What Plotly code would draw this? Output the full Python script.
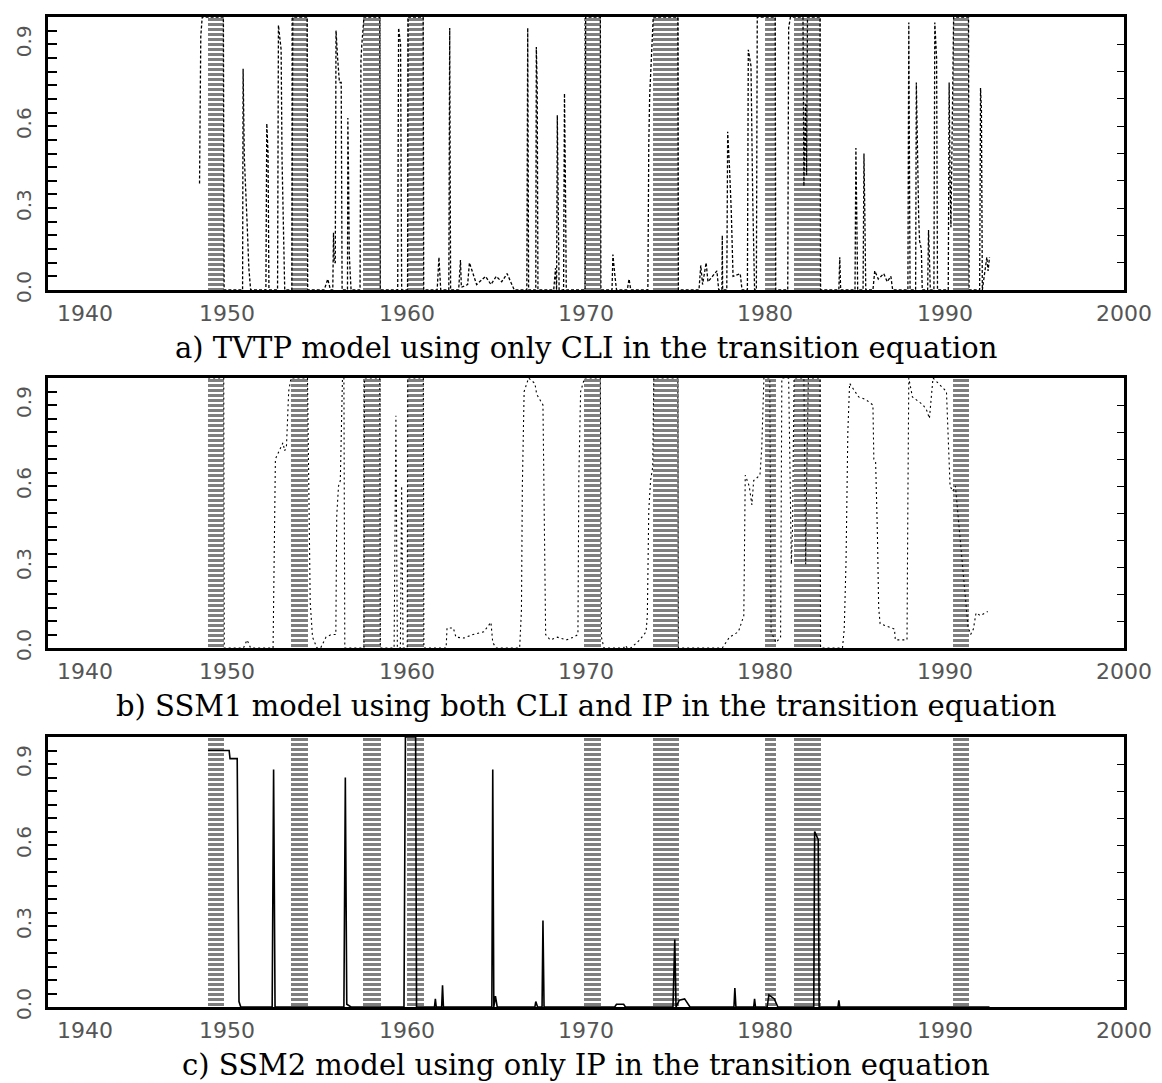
import numpy as np
import plotly.graph_objects as go

# Recession periods (decimal years) shaded in every panel
REC_START = [1948.90, 1953.57, 1957.58, 1960.02, 1969.90, 1973.72, 1979.98, 1981.60, 1990.45]
REC_END = [1949.84, 1954.50, 1958.55, 1960.98, 1970.85, 1975.18, 1980.60, 1983.12, 1991.38]

# Probability of recession: (decimal year, probability)
TVTP_PROB = [
    (1948.45, 0.39), (1948.50, 0.74), (1948.52, 0.93), (1948.60, 1.00), (1949.78, 1.00),
    (1949.82, 0.00), (1950.85, 0.00), (1950.88, 0.81), (1950.95, 0.48), (1951.10, 0.25),
    (1951.20, 0.08), (1951.30, 0.00), (1952.15, 0.00), (1952.20, 0.61), (1952.27, 0.50),
    (1952.32, 0.00), (1952.80, 0.00), (1952.85, 0.97), (1953.00, 0.88), (1953.05, 0.48),
    (1953.15, 0.21), (1953.20, 0.00), (1953.60, 0.00), (1953.65, 1.00), (1954.45, 1.00),
    (1954.48, 0.00), (1955.40, 0.00), (1955.60, 0.04), (1955.75, 0.00), (1955.88, 0.00),
    (1955.92, 0.21), (1955.96, 0.10), (1956.02, 0.10), (1956.06, 0.95), (1956.15, 0.85),
    (1956.25, 0.76), (1956.35, 0.76), (1956.40, 0.00), (1956.70, 0.00), (1956.72, 0.63),
    (1956.76, 0.42), (1956.80, 0.13), (1956.86, 0.05), (1956.90, 0.00), (1957.40, 0.00),
    (1957.45, 0.84), (1957.50, 0.90), (1957.62, 1.00), (1958.50, 1.00), (1958.53, 0.00),
    (1959.50, 0.00), (1959.55, 0.96), (1959.66, 0.90), (1959.72, 0.00), (1960.05, 0.00),
    (1960.08, 1.00), (1960.92, 1.00), (1960.95, 0.00), (1961.70, 0.00), (1961.80, 0.12),
    (1961.90, 0.00), (1962.35, 0.00), (1962.40, 0.96), (1962.45, 0.00), (1962.90, 0.00),
    (1963.00, 0.11), (1963.05, 0.01), (1963.40, 0.02), (1963.50, 0.10), (1963.90, 0.02),
    (1964.40, 0.05), (1964.70, 0.02), (1965.00, 0.05), (1965.30, 0.03), (1965.60, 0.06),
    (1966.00, 0.00), (1966.70, 0.00), (1966.75, 0.96), (1966.80, 0.00), (1967.20, 0.00),
    (1967.23, 0.89), (1967.28, 0.74), (1967.32, 0.00), (1968.20, 0.00), (1968.30, 0.08),
    (1968.36, 0.00), (1968.40, 0.64), (1968.45, 0.38), (1968.50, 0.00), (1968.75, 0.00),
    (1968.80, 0.72), (1968.85, 0.41), (1968.90, 0.00), (1969.95, 0.00), (1969.98, 1.00),
    (1970.80, 1.00), (1970.83, 0.00), (1971.45, 0.00), (1971.50, 0.13), (1971.60, 0.06),
    (1971.70, 0.00), (1972.30, 0.00), (1972.40, 0.04), (1972.50, 0.00), (1973.45, 0.00),
    (1973.50, 0.53), (1973.55, 0.71), (1973.75, 1.00), (1975.12, 1.00), (1975.15, 0.00),
    (1976.30, 0.00), (1976.40, 0.09), (1976.50, 0.02), (1976.70, 0.10), (1976.80, 0.03),
    (1977.30, 0.07), (1977.40, 0.00), (1977.58, 0.00), (1977.60, 0.20), (1977.62, 0.00),
    (1977.85, 0.00), (1977.90, 0.58), (1978.00, 0.45), (1978.10, 0.29), (1978.20, 0.05),
    (1978.60, 0.06), (1978.70, 0.00), (1979.00, 0.00), (1979.05, 0.88), (1979.20, 0.82),
    (1979.30, 0.32), (1979.40, 0.00), (1979.50, 0.00), (1979.55, 1.00), (1980.55, 1.00),
    (1980.58, 0.00), (1981.25, 0.00), (1981.30, 0.96), (1981.40, 1.00), (1982.10, 1.00),
    (1982.15, 0.38), (1982.25, 0.68), (1982.30, 0.42), (1982.35, 1.00), (1983.05, 1.00),
    (1983.08, 0.00), (1984.10, 0.00), (1984.15, 0.12), (1984.20, 0.00), (1985.00, 0.00),
    (1985.05, 0.52), (1985.10, 0.12), (1985.15, 0.00), (1985.45, 0.00), (1985.50, 0.50),
    (1985.55, 0.27), (1985.60, 0.00), (1986.00, 0.00), (1986.10, 0.07), (1986.30, 0.04),
    (1986.60, 0.06), (1986.80, 0.03), (1987.00, 0.05), (1987.10, 0.00), (1987.95, 0.00),
    (1988.00, 0.98), (1988.07, 0.00), (1988.38, 0.00), (1988.42, 0.76), (1988.55, 0.27),
    (1988.60, 0.18), (1988.70, 0.15), (1988.75, 0.00), (1989.05, 0.00), (1989.10, 0.22),
    (1989.15, 0.12), (1989.20, 0.00), (1989.40, 0.00), (1989.45, 0.98), (1989.55, 0.85),
    (1989.60, 0.00), (1990.20, 0.00), (1990.25, 0.76), (1990.30, 0.40), (1990.35, 0.23),
    (1990.50, 1.00), (1991.33, 1.00), (1991.36, 0.00), (1991.95, 0.00), (1992.00, 0.74),
    (1992.05, 0.66), (1992.10, 0.00), (1992.35, 0.12), (1992.42, 0.07), (1992.50, 0.12),
]

SSM1_PROB = [
    (1948.93, 1.00), (1949.80, 1.00), (1949.83, 0.00), (1950.90, 0.00), (1951.10, 0.03),
    (1951.30, 0.00), (1952.55, 0.00), (1952.62, 0.40), (1952.68, 0.70), (1953.10, 0.76),
    (1953.20, 0.73), (1953.30, 0.75), (1953.42, 0.95), (1953.55, 1.00), (1954.47, 1.00),
    (1954.62, 0.17), (1954.75, 0.04), (1955.00, 0.00), (1955.20, 0.00), (1955.50, 0.04),
    (1955.80, 0.05), (1956.05, 0.05), (1956.10, 0.49), (1956.20, 0.60), (1956.30, 0.62),
    (1956.42, 1.00), (1956.50, 1.00), (1956.55, 0.00), (1957.62, 0.00), (1957.65, 1.00),
    (1958.50, 1.00), (1958.53, 0.00), (1959.30, 0.00), (1959.40, 0.86), (1959.48, 0.00),
    (1959.65, 0.00), (1959.72, 0.60), (1959.80, 0.00), (1960.03, 0.00), (1960.06, 1.00),
    (1960.93, 1.00), (1960.96, 0.00), (1962.20, 0.00), (1962.25, 0.074), (1962.60, 0.074),
    (1962.75, 0.04), (1963.20, 0.037), (1963.70, 0.05), (1964.30, 0.06), (1964.70, 0.095),
    (1964.80, 0.02), (1965.00, 0.00), (1966.30, 0.00), (1966.40, 0.14), (1966.45, 0.60),
    (1966.55, 0.95), (1966.80, 1.00), (1967.15, 0.98), (1967.25, 0.94), (1967.60, 0.90),
    (1967.68, 0.38), (1967.75, 0.05), (1968.00, 0.03), (1968.40, 0.04), (1968.90, 0.03),
    (1969.30, 0.04), (1969.55, 0.05), (1969.60, 0.63), (1969.70, 0.95), (1969.92, 1.00),
    (1970.80, 1.00), (1970.86, 0.04), (1971.00, 0.00), (1972.10, 0.00), (1972.20, 0.01),
    (1972.30, 0.00), (1972.50, 0.00), (1973.00, 0.03), (1973.35, 0.06), (1973.42, 0.12),
    (1973.50, 0.51), (1973.60, 0.62), (1973.72, 0.67), (1973.78, 1.00), (1975.12, 1.00),
    (1975.15, 0.00), (1977.60, 0.00), (1978.00, 0.04), (1978.50, 0.06), (1978.80, 0.12),
    (1978.88, 0.64), (1979.10, 0.60), (1979.25, 0.53), (1979.35, 0.62), (1979.70, 0.64),
    (1979.80, 0.74), (1979.92, 1.00), (1980.25, 1.00), (1980.32, 0.06), (1980.60, 0.02),
    (1980.85, 0.04), (1980.92, 1.00), (1981.30, 1.00), (1981.40, 0.56), (1981.45, 0.31),
    (1981.52, 0.45), (1981.60, 1.00), (1982.15, 1.00), (1982.20, 0.54), (1982.25, 0.31),
    (1982.30, 0.60), (1982.40, 1.00), (1983.05, 1.00), (1983.08, 0.00), (1984.30, 0.00),
    (1984.40, 0.07), (1984.50, 0.32), (1984.60, 0.80), (1984.70, 0.98), (1985.00, 0.95),
    (1985.20, 0.93), (1985.60, 0.92), (1986.00, 0.90), (1986.05, 0.70), (1986.15, 0.69),
    (1986.25, 0.42), (1986.32, 0.15), (1986.40, 0.09), (1987.20, 0.07), (1987.25, 0.03),
    (1987.90, 0.03), (1987.95, 0.56), (1988.00, 1.00), (1988.20, 0.93), (1988.80, 0.90),
    (1989.00, 0.88), (1989.15, 0.85), (1989.35, 1.00), (1990.10, 0.95), (1990.30, 0.60),
    (1990.45, 0.58), (1990.60, 0.60), (1991.30, 0.08), (1991.45, 0.05), (1991.60, 0.07),
    (1991.75, 0.13), (1992.00, 0.12), (1992.40, 0.135),
]

SSM2_PROB = [
    (1948.92, 0.95), (1950.10, 0.95), (1950.15, 0.92), (1950.55, 0.92), (1950.65, 0.02),
    (1950.75, 0.00), (1952.50, 0.00), (1952.58, 0.88), (1952.66, 0.00), (1956.50, 0.00),
    (1956.58, 0.85), (1956.66, 0.01), (1956.90, 0.00), (1959.85, 0.00), (1959.93, 1.00),
    (1960.50, 1.00), (1960.55, 0.00), (1961.55, 0.00), (1961.60, 0.03), (1961.65, 0.00),
    (1961.95, 0.00), (1962.00, 0.08), (1962.05, 0.00), (1964.75, 0.00), (1964.80, 0.88),
    (1964.86, 0.00), (1964.95, 0.04), (1965.05, 0.00), (1967.15, 0.00), (1967.20, 0.02),
    (1967.30, 0.00), (1967.55, 0.00), (1967.60, 0.32), (1967.66, 0.00), (1971.60, 0.00),
    (1971.70, 0.01), (1972.10, 0.01), (1972.20, 0.00), (1974.85, 0.00), (1974.95, 0.25),
    (1975.02, 0.00), (1975.20, 0.025), (1975.50, 0.03), (1975.80, 0.00), (1978.25, 0.00),
    (1978.30, 0.07), (1978.36, 0.00), (1979.35, 0.00), (1979.40, 0.03), (1979.45, 0.00),
    (1980.10, 0.00), (1980.20, 0.045), (1980.50, 0.03), (1980.70, 0.00), (1982.70, 0.00),
    (1982.75, 0.65), (1982.95, 0.62), (1983.00, 0.00), (1984.05, 0.00), (1984.10, 0.025),
    (1984.15, 0.00), (1992.50, 0.00),
]

CAPTIONS = [
    "a) TVTP model using only CLI in the transition equation",
    "b) SSM1 model using both CLI and IP in the transition equation",
    "c) SSM2 model using only IP in the transition equation",
]
YEAR_TICKS = [1940, 1950, 1960, 1970, 1980, 1990, 2000]
PROB_TICKS = [0.0, 0.3, 0.6, 0.9]
PROB_LABELS = ["0.0", "0.3", "0.6", "0.9"]

# ---- page geometry (pixels) ----
W, H = 1162, 1083
M_L, M_R, M_T, M_B = 45, 38, 17, 76
plot_h = H - M_T - M_B
panel_px = [(17, 290), (378, 648), (737, 1007)]  # top, bottom of each frame
line_styles = [dict(width=1.3, dash="3px,2px"),
               dict(width=1.1, dash="2px,3px"),
               dict(width=1.6, dash="solid")]


def to_paper(px):
    return 1 - (px - M_T) / plot_h


fig = go.Figure()

centers = [(s + e) / 2 for s, e in zip(REC_START, REC_END)]
widths = [e - s for s, e in zip(REC_START, REC_END)]
series = [TVTP_PROB, SSM1_PROB, SSM2_PROB]

layout_axes = {}
annotations = []
minor_vals = [round(v, 2) for v in np.arange(0, 1.0001, 0.05)]
right_vals = [round(v, 1) for v in np.arange(0.1, 0.95, 0.1)]

for i in range(3):
    n = i + 1
    xa = "x" if n == 1 else f"x{n}"
    ya = "y" if n == 1 else f"y{n}"
    yr = f"y{n + 3}"

    # hatched recession bands: heavy horizontal strokes
    fig.add_trace(go.Bar(
        x=centers, y=[1] * len(centers), width=widths, base=0,
        marker=dict(color="black", line=dict(width=0),
                    pattern=dict(shape="-", size=5, solidity=0.6,
                                 fgcolor="black", bgcolor="white")),
        xaxis=xa, yaxis=ya, showlegend=False, hoverinfo="skip"))

    t_vals = [p[0] for p in series[i]]
    p_vals = [p[1] for p in series[i]]
    fig.add_trace(go.Scatter(
        x=t_vals, y=p_vals, mode="lines",
        line=dict(color="black", **line_styles[i]),
        xaxis=xa, yaxis=ya, showlegend=False, hoverinfo="skip"))
    # carrier for the right-hand tick axis
    fig.add_trace(go.Scatter(x=[], y=[], xaxis=xa, yaxis=yr,
                             showlegend=False, hoverinfo="skip"))

    top_px, bot_px = panel_px[i]
    dom = [to_paper(bot_px), to_paper(top_px)]
    key_x = "xaxis" if n == 1 else f"xaxis{n}"
    key_y = "yaxis" if n == 1 else f"yaxis{n}"
    layout_axes[key_x] = dict(
        domain=[0, 1], anchor=ya, range=[1940, 2000],
        showline=True, linewidth=2.5, linecolor="black", mirror=True,
        ticks="", showticklabels=False, showgrid=False, zeroline=False)
    layout_axes[key_y] = dict(
        domain=dom, anchor=xa, range=[0, 1],
        showline=True, linewidth=2.5, linecolor="black", mirror=True,
        tickvals=PROB_TICKS, ticktext=PROB_LABELS, tickangle=-90,
        ticks="inside", ticklen=9, tickwidth=1.6, tickcolor="black",
        ticklabelstandoff=6,
        tickfont=dict(family="DejaVu Sans", size=20, color="#555"),
        minor=dict(tickvals=minor_vals, ticks="inside", ticklen=9,
                   tickwidth=1.6, tickcolor="black"),
        showgrid=False, zeroline=False)
    layout_axes[f"yaxis{n + 3}"] = dict(
        overlaying=ya, side="right", anchor=xa, range=[0, 1],
        tickvals=right_vals, ticks="inside", ticklen=7, tickwidth=1.4,
        tickcolor="black", showticklabels=False, showline=False,
        showgrid=False, zeroline=False)

    xd = "x domain" if n == 1 else f"x{n} domain"
    yd = "y domain" if n == 1 else f"y{n} domain"
    for yv in YEAR_TICKS:
        first = yv == YEAR_TICKS[0]
        annotations.append(dict(
            x=yv, xref=xa, y=0, yref=yd, yshift=-23,
            xanchor="left" if first else "center", xshift=7 if first else 0,
            yanchor="middle", showarrow=False, text=str(yv),
            font=dict(family="DejaVu Sans", size=22, color="#555")))
    annotations.append(dict(
        x=0.5, xref=xd, y=0, yref=yd, yshift=-58,
        xanchor="center", yanchor="middle", showarrow=False, text=CAPTIONS[i],
        font=dict(family="DejaVu Serif", size=29, color="black")))

fig.update_layout(
    width=W, height=H,
    margin=dict(l=M_L, r=M_R, t=M_T, b=M_B, pad=0),
    paper_bgcolor="white", plot_bgcolor="white",
    barmode="overlay", bargap=0, showlegend=False,
    annotations=annotations,
    **layout_axes)

fig.write_html("out.html")
